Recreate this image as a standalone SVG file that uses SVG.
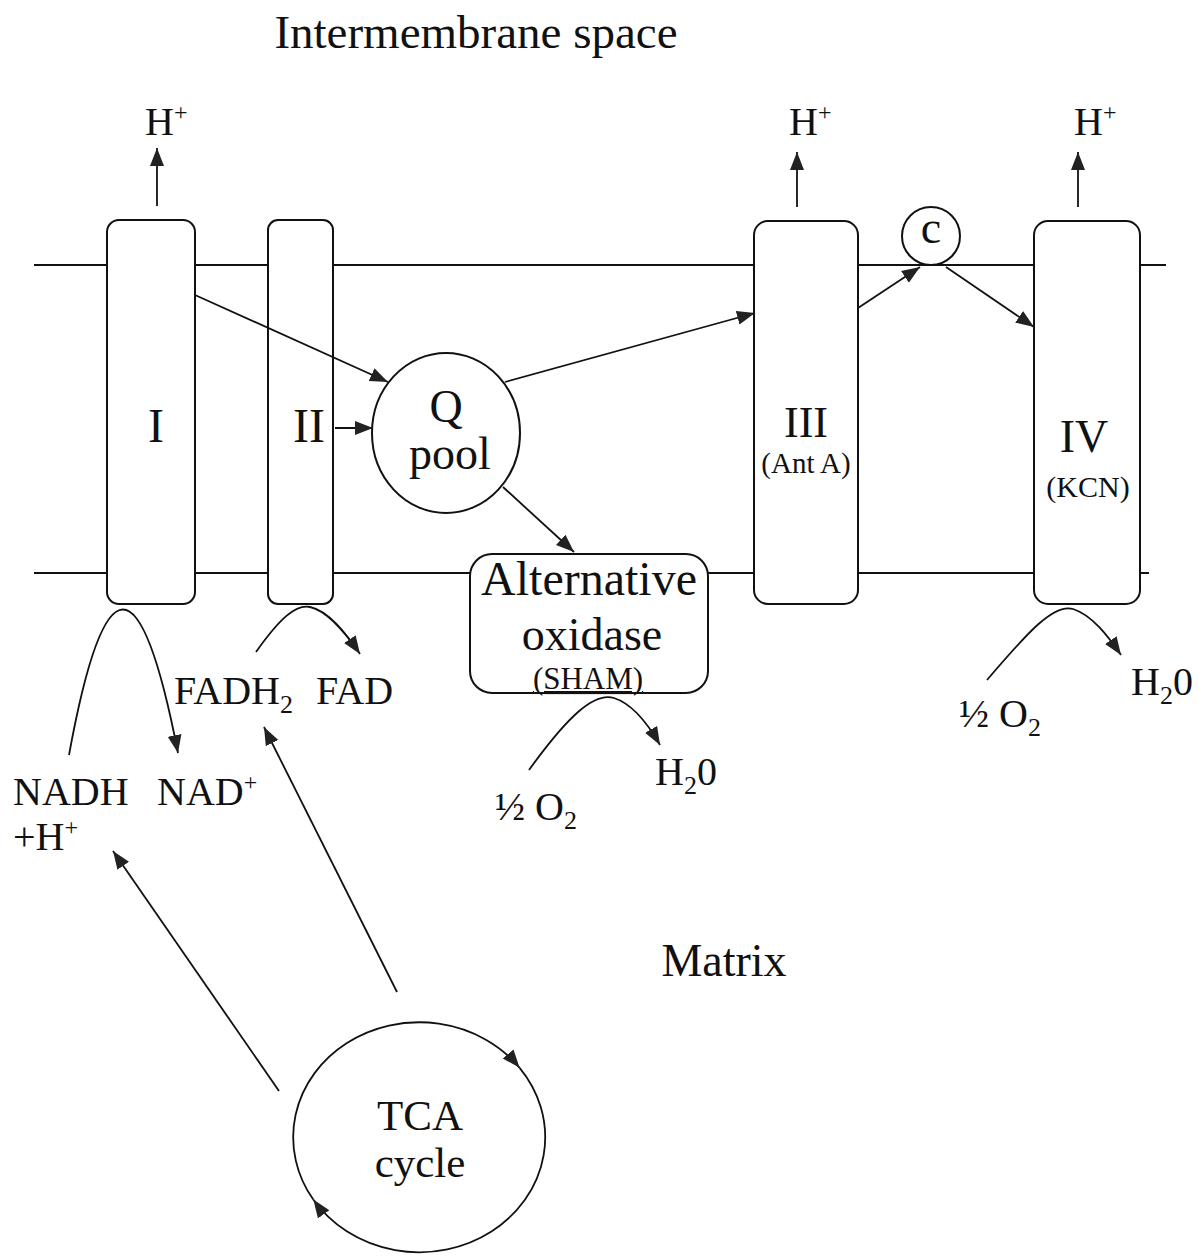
<svg xmlns="http://www.w3.org/2000/svg" width="1199" height="1256" viewBox="0 0 1199 1256">
<style>
text{font-family:"Liberation Serif","Times New Roman",serif;fill:#111}
.box{fill:#fff;stroke:#111;stroke-width:2}
.mem{stroke:#111;stroke-width:2;fill:none}
.a{stroke:#111;stroke-width:1.8;fill:none;marker-end:url(#ah)}
.big{font-size:48px}
.med{font-size:40px}
.mid{text-anchor:middle}
</style>
<defs>
<marker id="ah" markerUnits="userSpaceOnUse" markerWidth="20" markerHeight="16" refX="18" refY="7" orient="auto">
<path d="M0,0 L18,7 L0,14 z" fill="#222"/>
</marker>
</defs>
<rect width="1199" height="1256" fill="#fff"/>
<g id="membrane">
<line class="mem" x1="34" y1="265" x2="1166" y2="265"/>
<line class="mem" x1="34" y1="573" x2="1149" y2="573"/>
</g>
<g id="labels">
<text class="mid" x="476" y="48" font-size="47">Intermembrane space</text>
<text class="mid" x="724" y="976" font-size="46">Matrix</text>
</g>
<g id="complexI">
<rect class="box" x="107" y="220" width="88" height="384" rx="12"/>
<text class="big mid" x="156" y="442">I</text>
</g>
<g id="complexII">
<rect class="box" x="268" y="220" width="65" height="384" rx="10"/>
<text class="big mid" x="309" y="442">II</text>
</g>
<g id="qpool">
<ellipse class="box" cx="446" cy="433" rx="74" ry="80"/>
<text class="mid" x="446" y="422" font-size="46">Q</text>
<text class="mid" x="450" y="469" font-size="46">pool</text>
</g>
<g id="complexIII">
<rect class="box" x="754" y="221" width="104" height="383" rx="14"/>
<text class="mid" x="806" y="437" font-size="44">III</text>
<text class="mid" x="806" y="473" font-size="29">(Ant A)</text>
</g>
<g id="cytc">
<circle class="box" cx="931" cy="236" r="29"/>
<text class="mid" x="931" y="243" font-size="46">c</text>
</g>
<g id="complexIV">
<rect class="box" x="1034" y="221" width="106" height="383" rx="14"/>
<text class="mid" x="1084" y="452" font-size="46">IV</text>
<text class="mid" x="1088" y="497" font-size="30">(KCN)</text>
</g>
<g id="altox">
<rect class="box" x="470" y="554" width="238" height="139" rx="22"/>
<text class="big mid" x="589" y="595">Alternative</text>
<text class="mid" x="592" y="650" font-size="46">oxidase</text>
<text class="mid" x="588" y="689" font-size="31" text-decoration="underline">(SHAM)</text>
</g>
<g id="tca">
<text class="mid" x="420" y="1130" font-size="43">TCA</text>
<text class="mid" x="420" y="1177" font-size="43">cycle</text>
</g>
<g id="hplus">
<text class="med" x="145" y="135">H<tspan font-size="24" dy="-15">+</tspan></text>
<text class="med" x="789" y="135">H<tspan font-size="24" dy="-15">+</tspan></text>
<text class="med" x="1074" y="135">H<tspan font-size="24" dy="-15">+</tspan></text>
</g>
<g id="metabolites">
<text class="med" x="13" y="805">NADH</text>
<text class="med" x="157" y="805">NAD<tspan font-size="24" dy="-15">+</tspan></text>
<text class="med" x="13" y="850">+H<tspan font-size="24" dy="-15">+</tspan></text>
<text class="med" x="174" y="704">FADH<tspan font-size="26" dy="9">2</tspan></text>
<text class="med" x="316" y="704">FAD</text>
<text class="med" x="655" y="785">H<tspan font-size="26" dy="9">2</tspan><tspan dy="-9">0</tspan></text>
<text class="med" x="495" y="820">½ O<tspan font-size="26" dy="9">2</tspan></text>
<text class="med" x="1131" y="695">H<tspan font-size="26" dy="9">2</tspan><tspan dy="-9">0</tspan></text>
<text class="med" x="959" y="727">½ O<tspan font-size="26" dy="9">2</tspan></text>
</g>
<g id="connectors">
<line class="a" x1="157" y1="206" x2="157" y2="148"/>
<line class="a" x1="797" y1="207" x2="797" y2="152"/>
<line class="a" x1="1078" y1="207" x2="1078" y2="152"/>
<line class="a" x1="195" y1="295" x2="388" y2="382"/>
<line class="a" x1="335" y1="428" x2="373" y2="428"/>
<line class="a" x1="505" y1="382" x2="755" y2="313"/>
<line class="a" x1="503" y1="487" x2="574" y2="552"/>
<line class="a" x1="858" y1="308" x2="920" y2="267"/>
<line class="a" x1="946" y1="267" x2="1034" y2="327"/>
<line class="a" x1="397" y1="992" x2="264" y2="727"/>
<line class="a" x1="279" y1="1091" x2="113" y2="851"/>
<path class="a" d="M69,755 Q122,465 178,753"/>
<path class="a" d="M256,652 C280,618 296,604 310,607 C328,611 345,632 360,654"/>
<path class="a" d="M529,770 C568,716 594,692 614,698 C633,704 648,724 660,745"/>
<path class="a" d="M987,680 C1028,632 1054,603 1073,609 C1092,615 1108,636 1121,655"/>
<path class="a" d="M313.3,1199.6 A126,115 0 0 1 519.6,1067.8"/>
<path class="a" d="M519.6,1067.8 A126,115 0 1 1 313.3,1199.6"/>
</g>
</svg>
